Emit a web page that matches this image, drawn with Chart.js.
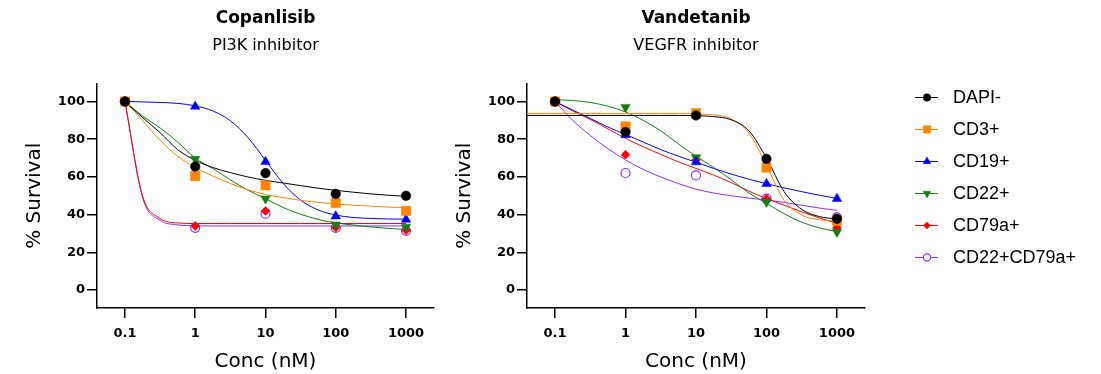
<!DOCTYPE html>
<html>
<head>
<meta charset="utf-8">
<title>Copanlisib / Vandetanib dose response</title>
<script src="https://cdn.jsdelivr.net/npm/chart.js@4.4.1/dist/chart.umd.min.js"></script>
<style>
html, body { margin: 0; padding: 0; background: #fff; }
#wrap { position: relative; width: 1101px; height: 374px; overflow: hidden; }
#copanlisib { position: absolute; left: 0; top: 0; }
#vandetanib { position: absolute; left: 450px; top: 0; }
</style>
</head>
<body>
<div id="wrap">
  <canvas id="copanlisib" width="450" height="374"></canvas>
  <canvas id="vandetanib" width="651" height="374"></canvas>
</div>
<script>
// concentrations tested (nM) and axis ticks
const concentrations = [0.1, 1, 10, 100, 1000];
const concLabels = ["0.1", "1", "10", "100", "1000"];
const survivalTicks = [0, 20, 40, 60, 80, 100];

const cellGroups = ["DAPI-", "CD3+", "CD19+", "CD22+", "CD79a+", "CD22+CD79a+"];

// % survival, one row per cell group, one column per concentration
const copanlisibSurvival = [
  [100, 65.5, 62, 51, 50],
  [100, 60.5, 55.5, 46.2, 42],
  [100, 97.4, 68, 39.2, 37.4],
  [100, 69.5, 48.5, 34.7, 33.5],
  [100, 34, 42, 33.2, 31.7],
  [100, 33, 40.5, 33, 31.4]
];
const vandetanibSurvival = [
  [100, 83.8, 92.6, 69.6, 37.8],
  [100, 86.8, 93.8, 65, 36.7],
  [100, 82.3, 67.9, 56.4, 48.5],
  [100, 97, 70.3, 46.7, 30.8],
  [100, 71.8, 69, 48.5, 33.1],
  [100, 62.1, 60.8, 48.5, 38.6]
];

// fitted curves, sampled at fitConc (null = curve not drawn there)
const fitConc = [0.04, 0.1, 0.178, 0.316, 0.562, 1, 1.78, 3.16, 5.62, 10, 17.8, 31.6, 56.2, 100, 178, 316, 562, 1000];
const copanlisibFit = [
  [null, 100, 91.5, 83.5, 74.5, 68.8, 65, 62.3, 60, 58.2, 56.8, 55.4, 54, 52.9, 51.9, 51, 50.3, 49.7],
  [null, 100, 90, 79.5, 71, 65, 60.5, 56.5, 53.2, 50.7, 49, 47.6, 46.5, 45.7, 45, 44.5, 44, 43.7],
  [null, 100, 99.8, 99.5, 99, 97.7, 95, 89.8, 80.9, 68.8, 56.6, 47.7, 42.5, 39.8, 38.5, 38, 37.7, 37.6],
  [null, 100, 92.3, 86, 78.5, 70, 64.5, 58.5, 53, 48.5, 43.8, 40.2, 37.5, 35.6, 34.5, 33.5, 32.7, 32.1],
  [null, 100, 50, 38, 35.6, 35.3, 35.3, 35.3, 35.3, 35.3, 35.3, 35.3, 35.3, 35.3, 35.3, 35.3, 35.3, 35.3],
  [null, 100, 49, 37, 34.6, 34.1, 34, 34, 34, 34, 34, 34, 34, 34, 34, 34, 34, 34]
];
const vandetanibFit = [
  [92.6, 92.6, 92.6, 92.6, 92.6, 92.6, 92.6, 92.6, 92.6, 92.5, 92, 90.3, 84.5, 70, 52.2, 42.8, 39, 37.7],
  [93.6, 93.6, 93.6, 93.6, 93.6, 93.6, 93.6, 93.6, 93.6, 93.4, 92.9, 90.8, 83.3, 66, 47.6, 39.8, 37.3, 36.7],
  [null, 100, 95.5, 91, 86.5, 82.5, 78.5, 74.5, 71, 67.8, 64.5, 61.5, 58.8, 56.4, 54.2, 52.2, 50.3, 48.6],
  [null, 101, 100.5, 99.5, 97.5, 94.5, 90, 84.5, 77.5, 71, 65, 58.5, 51.5, 46, 40.5, 36, 33, 31],
  [null, 100, 95, 90.5, 85.5, 80.5, 76, 72, 68, 64.5, 61, 57, 52.5, 48.5, 45, 41.5, 38.3, 35.3],
  [null, 100, 90, 82, 75, 69, 64, 60, 56.5, 53.5, 51.5, 50, 48.8, 47.8, 46.5, 45, 43.5, 42.3]
];

// look of each group
const groupColors = ["#000000", "#ff8400", "#0000ff", "#118011", "#ff0000", "#8f2cff"];
const groupMarkers = [
  { style: "circle", rotation: 0, radius: 4.8, open: false },
  { style: "rect", rotation: 0, radius: 6.6, open: false },
  { style: "triangle", rotation: 0, radius: 5.5, open: false },
  { style: "triangle", rotation: 180, radius: 5.5, open: false },
  { style: "rectRot", rotation: 0, radius: 4.5, open: false },
  { style: "circle", rotation: 0, radius: 4.5, open: true }
];

const FONT = '"DejaVu Sans", sans-serif';

// legend to the right of the second panel: line + marker + name
const sideLegend = {
  id: "sideLegend",
  afterDraw(chart) {
    const ctx = chart.ctx;
    ctx.save();
    ctx.font = '18px "Liberation Sans", Arial, sans-serif';
    ctx.textBaseline = "middle";
    cellGroups.forEach((name, i) => {
      const y = 97 + i * 32;
      const m = groupMarkers[i];
      ctx.strokeStyle = groupColors[i];
      ctx.lineWidth = 1;
      ctx.beginPath();
      ctx.moveTo(465, y + 0.5);
      ctx.lineTo(488, y + 0.5);
      ctx.stroke();
      ctx.fillStyle = m.open ? "#ffffff" : groupColors[i];
      ctx.lineWidth = m.open ? 1.2 : 0.5;
      Chart.helpers.drawPoint(ctx, {
        pointStyle: m.style, rotation: m.rotation,
        radius: m.radius * 0.8, borderWidth: ctx.lineWidth
      }, 477, y + 0.5);
      ctx.fillStyle = "#000";
      ctx.fillText(name, 503, y + 1);
    });
    ctx.restore();
  }
};

function axisGrid() {
  return { drawOnChartArea: false, drawTicks: true, tickLength: 10, color: "#000", lineWidth: 1.5 };
}

function dosePanel(canvasId, drug, target, survival, fit, axisWidth, yTitlePad, rightPad, plugins) {
  const datasets = [];
  cellGroups.forEach((name, i) => {
    const pts = [];
    fitConc.forEach((c, k) => {
      if (fit[i][k] !== null) pts.push({ x: c, y: fit[i][k] });
    });
    datasets.push({
      label: name + " fit",
      data: pts,
      borderColor: groupColors[i],
      borderWidth: 1,
      pointRadius: 0,
      cubicInterpolationMode: "monotone",
      fill: false,
      order: 1
    });
  });
  cellGroups.forEach((name, i) => {
    const m = groupMarkers[i];
    datasets.push({
      label: name,
      data: concentrations.map((c, k) => ({ x: c, y: survival[i][k] })),
      showLine: false,
      pointStyle: m.style,
      pointRotation: m.rotation,
      pointRadius: m.radius,
      pointBackgroundColor: m.open ? "#ffffff" : groupColors[i],
      pointBorderColor: groupColors[i],
      pointBorderWidth: m.open ? 1.2 : 0.5,
      order: 0
    });
  });

  return new Chart(document.getElementById(canvasId), {
    type: "line",
    data: { datasets },
    plugins: plugins,
    options: {
      responsive: false,
      animation: false,
      devicePixelRatio: 1,
      events: [],
      layout: { padding: { left: 0, right: rightPad, top: 0, bottom: 0 } },
      plugins: {
        legend: { display: false },
        tooltip: { enabled: false },
        title: {
          display: true, text: drug, fullSize: false, color: "#000",
          font: { family: FONT, size: 17, weight: "bold", lineHeight: 1.2 },
          padding: { top: 8, bottom: 0 }
        },
        subtitle: {
          display: true, text: target, fullSize: false, color: "#000",
          font: { family: FONT, size: 16, lineHeight: 1.2 },
          padding: { top: 7.6, bottom: 28.4 }
        }
      },
      scales: {
        x: {
          type: "logarithmic",
          min: 0.04,
          max: 2500,
          afterBuildTicks: s => { s.ticks = concentrations.map(v => ({ value: v })); },
          afterFit: s => { s.height = 66; },
          ticks: {
            color: "#000", padding: 8, maxRotation: 0, autoSkip: false,
            font: { family: FONT, size: 13, weight: "bold" },
            callback: (v, i) => concLabels[i]
          },
          grid: axisGrid(),
          border: { display: true, color: "#000", width: 1.5 },
          title: {
            display: true, text: "Conc (nM)", color: "#000",
            font: { family: FONT, size: 20, lineHeight: 1.2 },
            padding: { top: 0, bottom: 0 }
          }
        },
        y: {
          min: -9.5,
          max: 109.5,
          afterBuildTicks: s => { s.ticks = survivalTicks.map(v => ({ value: v })); },
          afterFit: s => { s.width = axisWidth; },
          ticks: {
            color: "#000", padding: 2,
            font: { family: FONT, size: 13, weight: "bold" }
          },
          grid: axisGrid(),
          border: { display: true, color: "#000", width: 1.5 },
          title: {
            display: true, text: "% Survival", color: "#000",
            font: { family: FONT, size: 20, lineHeight: 1.2 },
            padding: { top: yTitlePad, bottom: 0 }
          }
        }
      }
    }
  });
}

dosePanel("copanlisib", "Copanlisib", "PI3K inhibitor", copanlisibSurvival, copanlisibFit, 97, 23, 16, []);
dosePanel("vandetanib", "Vandetanib", "VEGFR inhibitor", vandetanibSurvival, vandetanibFit, 77, 3, 236, [sideLegend]);
</script>
</body>
</html>
